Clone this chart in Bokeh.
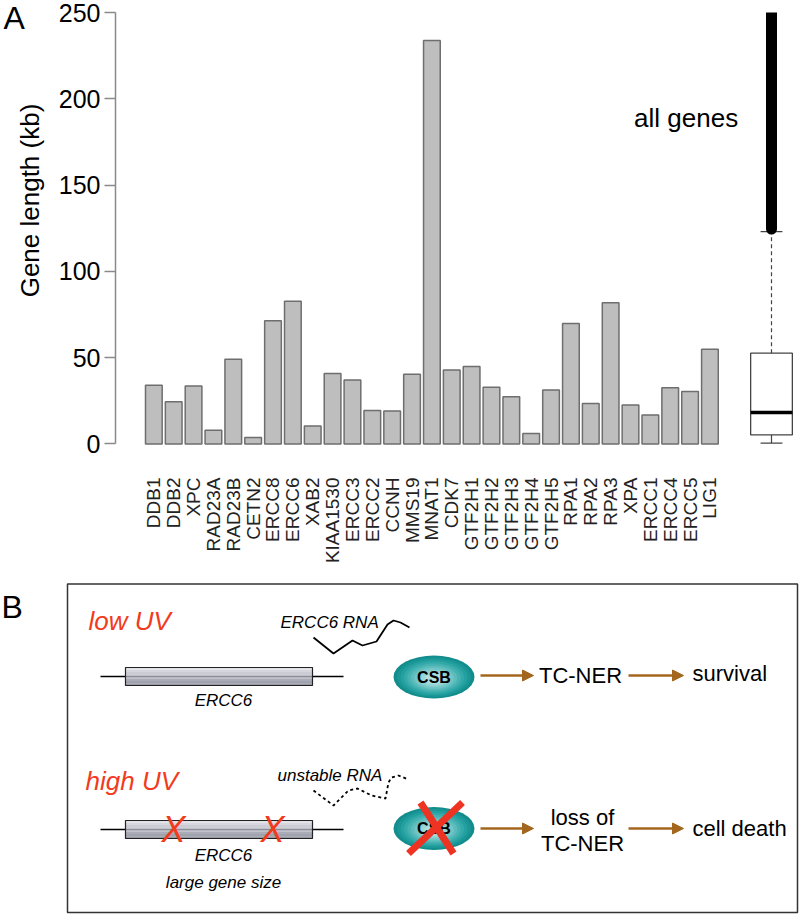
import numpy as np
from bokeh.plotting import figure
from bokeh.layouts import column, row
from bokeh.models import Range1d, FixedTicker, Arrow, NormalHead
from bokeh.core.properties import value
from bokeh.embed import file_html
from bokeh.resources import INLINE

FONT = value("Liberation Sans")

# ---------------- data (panel A) ----------------
genes = ["DDB1", "DDB2", "XPC", "RAD23A", "RAD23B", "CETN2", "ERCC8", "ERCC6", "XAB2",
         "KIAA1530", "ERCC3", "ERCC2", "CCNH", "MMS19", "MNAT1", "CDK7", "GTF2H1",
         "GTF2H2", "GTF2H3", "GTF2H4", "GTF2H5", "RPA1", "RPA2", "RPA3", "XPA",
         "ERCC1", "ERCC4", "ERCC5", "LIG1"]
gene_length_kb = [34.0, 24.5, 33.6, 7.9, 49.0, 3.7, 71.3, 82.7, 10.4,
                  40.8, 37.1, 19.3, 19.0, 40.4, 233.8, 42.9, 44.8,
                  32.9, 27.3, 6.0, 31.3, 69.8, 23.4, 81.8, 22.6,
                  16.8, 32.5, 30.3, 54.9]
# all-genes box plot summary (kb)
all_lower_whisker = 0.5
all_q1 = 5.2
all_median = 18.2
all_q3 = 52.6
all_upper_whisker = 123.0
all_outlier_min = 124.5
all_outlier_max = 250.0
y_ticks = [0, 50, 100, 150, 200, 250]
y_label = "Gene length (kb)"

positions = list(range(1, len(genes) + 1))
box_pos = 32.1

# ---------------- panel A: left strip with panel letter and axis title ----------------
pl = figure(width=45, height=582, output_backend="svg", toolbar_location=None,
            x_range=Range1d(0, 45), y_range=Range1d(0, 582),
            min_border=0, min_border_left=0, min_border_right=0,
            min_border_top=0, min_border_bottom=0)
pl.axis.visible = False
pl.grid.grid_line_color = None
pl.outline_line_color = None
pl.text(x=[3], y=[565], text=["A"], text_font=FONT, text_font_size="32px",
        text_align="left", text_baseline="middle", text_color="black")
pl.text(x=[29.5], y=[382], text=[y_label], text_font=FONT, text_font_size="26px",
        text_align="center", text_baseline="middle", angle=np.pi / 2, text_color="black")

# ---------------- panel A: bars ----------------
pa = figure(width=755, height=582, output_backend="svg", toolbar_location=None,
            x_range=Range1d(-0.93, 33.56), y_range=Range1d(-1.5, 250),
            min_border_left=70, min_border_right=0, min_border_top=12, min_border_bottom=136)
pa.outline_line_color = None
pa.grid.grid_line_color = None

pa.vbar(x=positions, top=gene_length_kb, bottom=0, width=0.84,
        fill_color="#bebebe", line_color="#6e6e6e", line_width=1.5)

# box plot for all genes
pa.quad(left=[box_pos - 1.05], right=[box_pos + 1.05], bottom=[all_q1], top=[all_q3],
        fill_color="white", line_color="#444444", line_width=1.3)
pa.segment(x0=[box_pos - 1.05], x1=[box_pos + 1.05], y0=[all_median], y1=[all_median],
           line_color="black", line_width=3.5)
pa.segment(x0=[box_pos], x1=[box_pos], y0=[all_q3], y1=[all_upper_whisker],
           line_color="#444444", line_width=1.2, line_dash="4 3")
pa.segment(x0=[box_pos], x1=[box_pos], y0=[all_q1], y1=[all_lower_whisker],
           line_color="#444444", line_width=1.2)
pa.segment(x0=[box_pos - 0.55, box_pos - 0.55], x1=[box_pos + 0.55, box_pos + 0.55],
           y0=[all_upper_whisker, all_lower_whisker], y1=[all_upper_whisker, all_lower_whisker],
           line_color="#444444", line_width=1.2)
pa.segment(x0=[box_pos], x1=[box_pos], y0=[all_outlier_min], y1=[all_outlier_max + 3],
           line_color="black", line_width=11, line_cap="round")

pa.text(x=[27.8], y=[189.0], text=["all genes"], text_font=FONT, text_font_size="26px",
        text_align="center", text_baseline="middle", text_color="black")

pa.yaxis.ticker = FixedTicker(ticks=y_ticks)
pa.yaxis.bounds = (0, 250)
pa.yaxis.axis_line_color = "#8a8a8a"
pa.yaxis.axis_line_width = 1.5
pa.yaxis.major_tick_line_color = "#8a8a8a"
pa.yaxis.major_tick_line_width = 1.5
pa.yaxis.major_tick_out = 11
pa.yaxis.major_tick_in = 0
pa.yaxis.minor_tick_line_color = None
pa.yaxis.major_label_standoff = 4
pa.yaxis.major_label_text_font = "Liberation Sans"
pa.yaxis.major_label_text_font_size = "25px"
pa.yaxis.major_label_text_color = "black"

pa.xaxis.ticker = FixedTicker(ticks=positions)
pa.xaxis.major_label_overrides = {p: g for p, g in zip(positions, genes)}
pa.xaxis.major_label_orientation = np.pi / 2
pa.xaxis.axis_line_color = None
pa.xaxis.major_tick_line_color = None
pa.xaxis.minor_tick_line_color = None
pa.xaxis.major_label_standoff = 25
pa.xaxis.major_label_text_font = "Liberation Sans"
pa.xaxis.major_label_text_font_size = "19px"
pa.xaxis.major_label_text_color = "#222222"

# ---------------- panel B (schematic) ----------------
pb = figure(width=800, height=334, output_backend="svg", toolbar_location=None,
            x_range=Range1d(0, 800), y_range=Range1d(916, 582),
            min_border=0, min_border_left=0, min_border_right=0,
            min_border_top=0, min_border_bottom=0)
pb.axis.visible = False
pb.grid.grid_line_color = None
pb.outline_line_color = None

for fig in (pl, pa, pb):
    try:
        fig.frame_align = False
    except Exception:
        pass

RED = "#f23b1c"
BROWN = "#a4661c"

pb.text(x=[1], y=[606], text=["B"], text_font=FONT, text_font_size="32px",
        text_baseline="middle", text_align="left", text_color="black")
pb.quad(left=[67], right=[797], top=[583.5], bottom=[912], fill_color=None,
        line_color="#333333", line_width=1.5)

# titles
pb.text(x=[88, 85], y=[620, 780], text=["low UV", "high UV"], text_font=FONT,
        text_font_size="26px", text_font_style="italic", text_color=RED,
        text_align="left", text_baseline="middle")

# RNA labels
pb.text(x=[280, 277], y=[622, 775], text=["ERCC6 RNA", "unstable RNA"], text_font=FONT,
        text_font_size="17px", text_font_style="italic", text_color="black",
        text_align="left", text_baseline="middle")

wave1_x = [313, 333, 352, 362, 376, 387, 393, 400, 409]
wave1_y = [637, 653, 640, 645, 641, 624, 620, 622, 627]
pb.line(wave1_x, wave1_y, line_color="black", line_width=1.8)
wave2_x = [313, 333, 348, 357, 371, 385, 388, 391, 398, 408]
wave2_y = [790, 805, 790, 788, 795, 798, 782, 777, 775, 779]
pb.line(wave2_x, wave2_y, line_color="black", line_width=1.8, line_dash="3 3")

# genes
shades = ["#e0e1e7", "#d6d7de", "#cbccd4", "#c0c2cb", "#b5b7c1", "#aaacb7",
          "#a0a2ad", "#9698a4"]
for gy in (676, 829):
    pb.segment(x0=[100], x1=[343], y0=[gy], y1=[gy], line_color="black", line_width=1.6)
    n = len(shades)
    top, bot = gy - 9, gy + 9
    for i, c in enumerate(shades):
        pb.quad(left=[125], right=[312], top=[top + (bot - top) * i / n],
                bottom=[top + (bot - top) * (i + 1) / n], fill_color=c, line_color=None)
    pb.quad(left=[125], right=[312], top=[top], bottom=[bot], fill_color=None,
            line_color="#222222", line_width=1.2)

pb.text(x=[223, 223, 223], y=[700, 855, 882], text=["ERCC6", "ERCC6", "large gene size"],
        text_font=FONT, text_font_size="17px", text_font_style="italic",
        text_color="black", text_align="center", text_baseline="middle")
pb.text(x=[173, 272], y=[829, 829], text=["X", "X"], text_font=FONT,
        text_font_size="36px", text_font_style="italic", text_color=RED,
        text_align="center", text_baseline="middle")

# CSB proteins
teal = ["#128c8c", "#1a9696", "#24a0a0", "#34a9a9", "#47b2b2", "#5cbcbc",
        "#72c5c5", "#88cfcf", "#9dd8d8", "#b0e0e0"]
for cy in (676.5, 828):
    for i, c in enumerate(teal):
        f = 1 - i / len(teal) * 0.85
        pb.ellipse(x=[433.5], y=[cy + 2.0 * i / len(teal)], width=[81 * f], height=[43 * f],
                   fill_color=c, line_color=None)
    pb.text(x=[433.5], y=[cy], text=["CSB"], text_font=FONT, text_font_size="16px",
            text_font_style="bold", text_color="black", text_align="center",
            text_baseline="middle")

# big red cross over second CSB
pb.segment(x0=[420, 462], x1=[453, 408], y0=[802, 802], y1=[853, 853],
           line_color="#ee3322", line_width=7)

# arrows
for ay in (675, 828):
    for xs, xe in ((480, 533), (628, 683)):
        pb.add_layout(Arrow(x_start=xs, y_start=ay, x_end=xe, y_end=ay,
                            line_color=BROWN, line_width=2.5,
                            end=NormalHead(size=11, fill_color=BROWN, line_color=BROWN)))

pb.text(x=[580, 582, 582], y=[675, 817, 843], text=["TC-NER", "loss of", "TC-NER"],
        text_font=FONT, text_font_size="22px", text_color="black",
        text_align="center", text_baseline="middle")
pb.text(x=[692, 692], y=[673, 828], text=["survival", "cell death"],
        text_font=FONT, text_font_size="22px", text_color="black",
        text_align="left", text_baseline="middle")

layout = column(row(pl, pa, spacing=0), pb, spacing=0)
open("out.html", "w").write(file_html(layout, INLINE))
